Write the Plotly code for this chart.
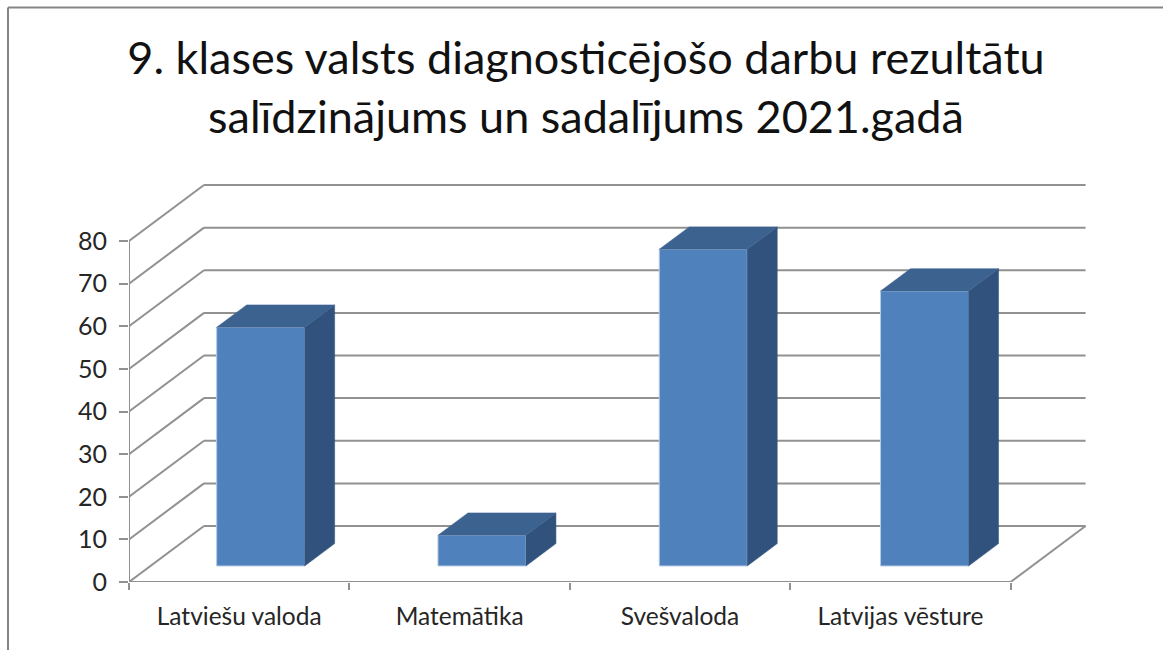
import plotly.graph_objects as go

# Data
categories = ["Latviešu valoda", "Matemātika", "Svešvaloda", "Latvijas vēsture"]
values = [56, 7.2, 74.3, 64.5]
y_ticks = [0, 10, 20, 30, 40, 50, 60, 70, 80]
title_lines = ["9. klases valsts diagnosticējošo darbu rezultātu", "salīdzinājums un sadalījums 2021.gadā"]

# Oblique-projection styling
PX_PER_CAT = 220.4
PX_PER_UNIT = 4.2625
DX = 75 / PX_PER_CAT
DY = 56 / PX_PER_UNIT
DEPTH_FRONT = 0.286
DEPTH_BACK = 0.686
BAR_W = 88 / PX_PER_CAT
BAR_PITCH = 221.3 / PX_PER_CAT
LEFT, RIGHT, TOP, BOTTOM = 129, 1100, 170, 582
GRID = "#919191"
FRONT, SIDE, TOPC = "#4F81BD", "#31527C", "#3C6290"


def proj(x, v, depth):
    return x + depth * DX, v + depth * DY


shapes = []


def seg(x0, y0, x1, y1):
    shapes.append(dict(type="line", xref="x", yref="y", x0=x0, y0=y0, x1=x1, y1=y1,
                       layer="below", line=dict(color=GRID, width=2)))


n = len(categories)
for t in y_ticks:
    bx0, by = proj(0, t, 1)
    bx1, _ = proj(n, t, 1)
    seg(0, t, bx0, by)
    seg(bx0, by, bx1, by)
# floor right edge, axis lines
bx1, by = proj(n, 0, 1)
seg(n, 0, bx1, by)
seg(0, 0, n, 0)
seg(0, 0, 0, y_ticks[-1])

fig = go.Figure()

slots = [i * BAR_PITCH + 0.5 for i in range(n)]
centres = [proj(s, 0, DEPTH_FRONT)[0] for s in slots]
_, base = proj(0, 0, DEPTH_FRONT)
fig.add_trace(go.Bar(x=centres, y=values, base=base, width=BAR_W,
                     marker=dict(color=FRONT, line=dict(color="#B5CBE6", width=1)),
                     hoverinfo="skip", showlegend=False))

for s, v in zip(slots, values):
    xl = s - BAR_W / 2
    xr = s + BAR_W / 2
    # side face
    pts = [proj(xr, 0, DEPTH_FRONT), proj(xr, 0, DEPTH_BACK), proj(xr, v, DEPTH_BACK), proj(xr, v, DEPTH_FRONT)]
    fig.add_trace(go.Scatter(x=[p[0] for p in pts] + [pts[0][0]], y=[p[1] for p in pts] + [pts[0][1]],
                             mode="lines", fill="toself", fillcolor=SIDE, line=dict(color=SIDE, width=0.5),
                             hoverinfo="skip", showlegend=False))
    # top face
    pts = [proj(xl, v, DEPTH_FRONT), proj(xl, v, DEPTH_BACK), proj(xr, v, DEPTH_BACK), proj(xr, v, DEPTH_FRONT)]
    fig.add_trace(go.Scatter(x=[p[0] for p in pts] + [pts[0][0]], y=[p[1] for p in pts] + [pts[0][1]],
                             mode="lines", fill="toself", fillcolor=TOPC, line=dict(color=TOPC, width=0.5),
                             hoverinfo="skip", showlegend=False))

# outer chart frame (top and left edges only)
fx = (8 - LEFT) / (RIGHT - LEFT)
fx1 = (1163 - LEFT) / (RIGHT - LEFT)
fy = (BOTTOM - 7.5) / (BOTTOM - TOP)
fy1 = (BOTTOM - 650) / (BOTTOM - TOP)
shapes += [
    dict(type="line", xref="paper", yref="paper", x0=fx, x1=fx1, y0=fy, y1=fy, line=dict(color="#858585", width=2)),
    dict(type="line", xref="paper", yref="paper", x0=fx, x1=fx, y0=fy, y1=fy1, line=dict(color="#858585", width=2)),
]

fig.update_layout(
    width=1163, height=650,
    margin=dict(l=LEFT, r=1163 - RIGHT, t=TOP, b=650 - BOTTOM),
    paper_bgcolor="white", plot_bgcolor="white",
    shapes=shapes, showlegend=False,
    font=dict(family="Lato", color="#262626"),
    title=dict(text="<br>".join(title_lines), x=586 / 1163, xanchor="center",
               y=1 - 74 / 650, yanchor="top", font=dict(family="Lato", size=45, color="#111111")),
    xaxis=dict(range=[0, (RIGHT - LEFT) / PX_PER_CAT], tickvals=[i + 0.5 for i in range(n)],
               ticktext=categories, ticks="", showgrid=False, zeroline=False, showline=False,
               tickfont=dict(size=24.5, color="#262626"), ticklabelstandoff=17,
               minor=dict(tickvals=list(range(n + 1)), ticks="outside", ticklen=7, tickwidth=2,
                          tickcolor=GRID, showgrid=False)),
    yaxis=dict(range=[0, (BOTTOM - TOP) / PX_PER_UNIT], tickvals=y_ticks, ticks="outside", ticklen=9,
               tickwidth=2, tickcolor=GRID, showgrid=False, zeroline=False, showline=False,
               tickfont=dict(size=25, color="#262626"), ticklabelstandoff=7),
)

fig.write_html("out.html", config={"displayModeBar": False},
               post_script="document.body.style.margin='0';document.body.style.overflow='hidden';")
